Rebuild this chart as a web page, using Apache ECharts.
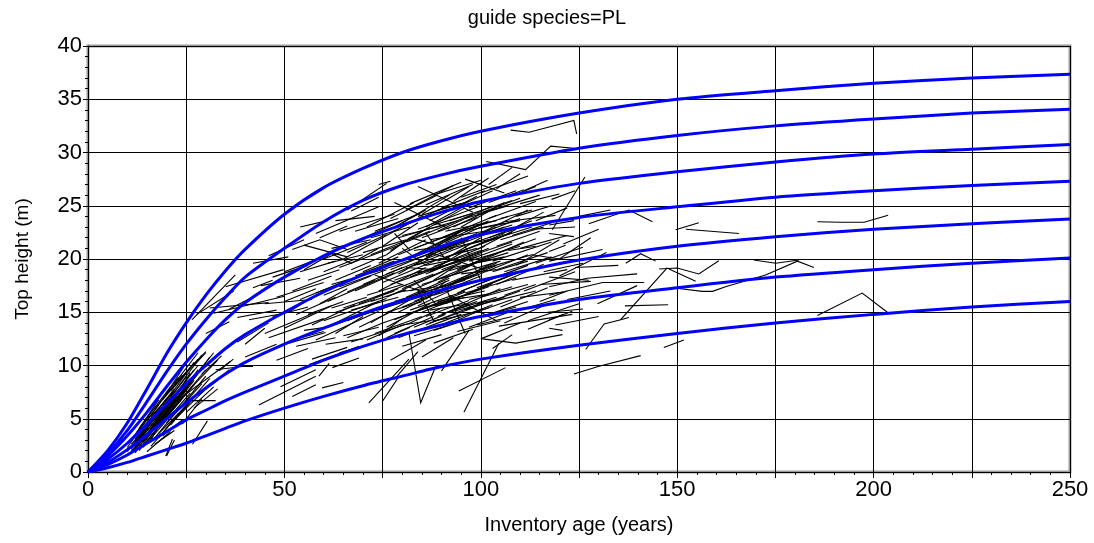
<!DOCTYPE html>
<html>
<head>
<meta charset="utf-8">
<title>guide species=PL</title>
<script src="https://cdn.jsdelivr.net/npm/echarts/dist/echarts.min.js"></script>
<style>
  html, body { margin: 0; padding: 0; background: #fff; }
  #chart { width: 1094px; height: 543px; }
</style>
</head>
<body>
<div id="chart"></div>
<script>
// guide curve ages (years)
const guideAges = [0, 5, 10, 15, 20, 25, 30, 35, 40, 50, 60, 70, 80, 90, 100, 125, 150, 175, 200, 225, 250];
// guide curve heights (m), top to bottom
const guide1 = [0, 2.0, 4.6, 7.8, 11.1, 14.0, 16.6, 18.9, 20.9, 24.2, 26.7, 28.5, 30.0, 31.1, 32.0, 33.7, 35.0, 35.8, 36.5, 37.0, 37.35];
const guide2 = [0, 1.7, 3.9, 6.6, 9.4, 12.0, 14.3, 16.4, 18.3, 21.0, 23.5, 25.5, 26.9, 27.9, 28.7, 30.4, 31.6, 32.5, 33.15, 33.7, 34.06];
const guide3 = [0, 1.5, 3.4, 5.6, 8.0, 10.3, 12.4, 14.3, 15.9, 18.3, 20.3, 21.9, 23.2, 24.4, 25.4, 27.1, 28.2, 29.1, 29.85, 30.3, 30.75];
const guide4 = [0, 1.2, 2.7, 4.5, 6.4, 8.3, 10.0, 11.6, 12.9, 15.0, 16.9, 18.5, 19.9, 21.2, 22.3, 23.9, 24.9, 25.8, 26.4, 26.9, 27.3];
const guide5 = [0, 0.9, 2.1, 3.5, 5.0, 6.5, 7.9, 9.2, 10.3, 12.0, 13.5, 14.9, 16.1, 17.1, 18.0, 19.9, 21.2, 22.1, 22.8, 23.3, 23.75];
const guide6 = [0, 0.7, 1.6, 2.7, 3.8, 4.9, 5.8, 6.7, 7.5, 9.0, 10.5, 11.8, 12.9, 13.8, 14.6, 16.2, 17.3, 18.3, 19.0, 19.6, 20.1];
const guide7 = [0, 0.4, 0.9, 1.5, 2.1, 2.7, 3.4, 4.1, 4.8, 6.0, 7.1, 8.1, 9.0, 9.9, 10.6, 11.9, 13.0, 14.0, 14.8, 15.5, 16.0];

// plot measurements: age, height, age, height, ...
const youngPlots = [
  [11, 2.2, 20, 6.5], [12, 2.8, 22, 7.2], [12, 3.5, 18, 6.8], [13, 2.0, 24, 6.9],
  [13, 4.1, 21, 8.0], [14, 2.6, 19, 5.2], [14, 3.0, 26, 8.6], [15, 3.6, 22, 6.9],
  [15, 4.8, 23, 8.9], [16, 2.4, 25, 6.2], [16, 5.2, 22, 7.6], [17, 3.9, 27, 8.2],
  [17, 5.9, 24, 9.1], [18, 3.2, 23, 5.5], [18, 4.5, 28, 9.6], [19, 6.2, 27, 10.3],
  [11, 1.9, 17, 4.2], [12, 2.5, 16, 4.6], [13, 3.3, 19, 6.1], [14, 4.4, 18, 6.3],
  [20, 4.6, 29, 8.3], [20, 5.8, 28, 9.2], [21, 7.0, 29, 11.0], [22, 4.9, 30, 7.8],
  [23, 6.8, 31, 10.8], [24, 7.5, 32, 11.2], [19, 3.4, 24, 4.9], [25, 5.6, 32, 8.0],
  [26, 7.8, 33, 10.5], [15, 1.9, 21, 3.8], [17, 2.6, 22, 3.9], [20, 1.5, 22, 3.0],
  [26.6, 2.6, 30.4, 4.8], [25.7, 6.7, 32.5, 6.7], [27, 6.0, 33, 7.8], [30, 7.8, 36, 9.6],
  [10, 2.3, 14, 4.4], [16, 3.0, 20, 5.8], [18, 5.0, 22, 7.3], [21, 6.2, 26, 9.3],
  [22, 8.3, 28, 11.2], [23, 8.6, 30, 11.3], [27, 10.0, 30, 11.2], [28, 7.2, 33, 8.6],
  [24, 4.5, 29, 6.9], [12, 1.8, 15, 3.4], [22.3, 6.6, 36.3, 10.4], [13, 2.9, 17, 5.3],
  [16, 4.1, 21, 6.6], [19, 5.3, 25, 8.0], [14, 3.8, 20, 6.9],
  [11, 2.6, 19, 5.9], [12, 3.1, 20, 6.4], [13, 2.4, 20, 5.5], [13, 3.7, 22, 7.8],
  [14, 3.4, 23, 7.6], [15, 2.9, 24, 7.0], [15, 4.3, 21, 6.6], [16, 3.8, 26, 8.5],
  [17, 4.8, 25, 8.4], [17, 3.2, 23, 5.9], [18, 4.0, 26, 7.4], [18, 5.6, 25, 8.9],
  [19, 4.8, 27, 8.6], [19, 6.8, 26, 9.8], [20, 5.2, 30, 9.6], [21, 5.6, 27, 8.2],
  [21, 7.6, 28, 10.6], [22, 6.4, 29, 9.9], [23, 5.4, 31, 8.8], [24, 6.3, 30, 9.0],
  [14, 2.3, 18, 4.0], [16, 3.4, 19, 4.6], [12, 2.1, 18, 5.0], [10, 1.9, 13, 3.4],
  [11, 3.0, 16, 5.6], [20, 7.4, 26, 10.8], [19.8, 1.5, 21.5, 3.1], [29, 9.2, 34, 10.9],
  [12, 2.4, 21, 6.0], [13, 3.0, 23, 7.4], [14, 2.8, 22, 6.2], [15, 3.2, 25, 7.8],
  [16, 4.6, 24, 8.0], [17, 4.2, 22, 6.4], [18, 3.6, 27, 7.0], [19, 5.8, 28, 10.0],
  [20, 6.2, 25, 8.4], [21, 4.4, 28, 7.4], [22, 7.2, 27, 9.6], [11, 2.0, 18, 4.8]
];
const midPlots = [
  [35, 17.4, 49.8, 19.0], [26.5, 14.3, 37.5, 18.5], [27.7, 14.8, 37.1, 17.0], [32, 14.9, 50, 16.5],
  [42, 19.6, 51, 20.2], [41, 14.3, 50, 14.9], [43.5, 6.3, 58, 9.0], [33.4, 9.5, 37, 10.6],
  [32.5, 9.6, 39.3, 9.9, 42, 9.9], [59.6, 7.9, 65, 8.4], [44, 11.0, 55, 12.8], [46, 12.6, 60, 14.4],
  [45, 15.8, 57, 16.2], [48, 10.5, 56, 11.6], [50, 13.5, 62, 15.6], [52, 17.0, 62, 18.4],
  [38, 12.2, 46, 14.0], [40, 10.8, 48, 12.0], [47, 18.3, 56, 19.4], [53, 11.8, 63, 12.6],
  [55, 13.3, 61, 13.6], [49, 8.0, 58, 9.6], [51, 15.0, 58, 16.6], [36, 15.3, 44, 16.8],
  [42, 17.3, 47, 18.0], [31, 15.4, 46, 15.9], [40, 12.0, 45, 13.5], [57, 10.6, 66, 11.7],
  [30, 13.0, 36, 14.1], [51.2, 12.1, 60.5, 13.1], [52, 7.1, 58, 8.2], [62.2, 9.8, 69, 10.7],
  [56.3, 10.1, 69, 11.8], [58.8, 9.0, 61.4, 10.2], [64, 11.2, 75, 12.3], [60.5, 12.0, 70, 12.5],
  [58, 22.4, 74, 24.9], [66, 24.6, 76, 27.1], [55, 21.3, 66, 20.2], [52, 20.9, 59, 21.8, 66, 20.9],
  [59, 22.0, 66, 23.1], [55, 19.0, 62, 20.5, 67, 19.6, 74, 21.0], [58, 12.4, 74, 15.1], [60, 14.2, 76, 16.3],
  [61, 16.0, 78, 18.7], [62, 17.6, 75, 19.0], [63, 13.0, 70, 14.6], [64, 19.2, 80, 21.4],
  [65, 15.4, 79, 17.2], [66, 20.6, 76, 22.3], [67, 12.2, 82, 14.0], [68, 17.0, 84, 19.6],
  [69, 21.8, 80, 23.6], [70, 14.8, 86, 16.6], [70, 18.8, 79, 20.2], [71, 23.0, 83, 25.3],
  [72, 16.0, 81, 17.1], [72, 20.4, 87, 22.6], [73, 13.0, 85, 14.6], [62, 21.0, 72, 21.8],
  [64, 22.6, 78, 24.2], [66, 16.9, 73, 18.0], [60, 18.8, 68, 20.0], [59, 15.8, 66, 17.2],
  [67, 24.5, 74, 25.8], [74, 27.0, 77, 27.3],
  [45, 13.0, 58, 15.0], [47, 14.6, 56, 15.5], [48, 16.4, 60, 17.8], [50, 18.8, 60, 20.2],
  [52, 12.4, 60, 13.2], [53, 14.8, 63, 16.4], [54, 16.2, 66, 18.0], [56, 18.0, 64, 19.0],
  [57, 13.8, 68, 15.7], [58, 16.8, 69, 18.3], [60, 20.0, 71, 21.6], [61, 13.6, 72, 15.0],
  [62, 15.4, 71, 16.4], [63, 18.0, 72, 19.4], [65, 12.8, 74, 13.6], [66, 14.2, 77, 15.8],
  [67, 19.0, 76, 20.4], [68, 22.6, 79, 23.8], [69, 15.8, 78, 17.0], [70, 17.6, 80, 19.2],
  [71, 12.4, 80, 13.8], [72, 22.0, 82, 23.0], [44, 17.5, 54, 18.2], [38, 14.5, 48, 15.2],
  [46, 20.3, 55, 21.8], [63, 23.6, 73, 24.0], [54, 23.0, 61, 23.6],
  [60, 16.6, 72, 18.4], [61, 19.6, 70, 20.4], [62, 13.8, 74, 16.0], [63, 15.0, 73, 16.2],
  [64, 17.4, 76, 19.0], [65, 20.0, 74, 21.8], [66, 12.6, 75, 14.0], [67, 15.2, 79, 16.4],
  [68, 18.4, 78, 19.8], [69, 13.6, 78, 15.2], [70, 20.6, 81, 21.8], [71, 16.6, 80, 17.6],
  [72, 14.0, 82, 16.2], [73, 22.6, 84, 24.2], [74, 12.8, 80, 14.4], [56, 14.8, 65, 16.0],
  [54, 18.8, 63, 19.8], [50, 16.0, 58, 17.2]
];
const corePlots = [
  [74, 15.2, 92, 18.0], [76, 16.4, 95, 19.6], [75, 17.8, 90, 20.1], [77, 19.0, 99, 22.4],
  [78, 14.3, 96, 16.9], [79, 20.4, 97, 23.0], [80, 15.5, 100, 18.4], [80, 17.2, 93, 19.3],
  [81, 21.6, 98, 24.2], [82, 18.3, 101, 21.2], [82, 14.0, 90, 15.4], [83, 16.0, 99, 18.6],
  [84, 19.5, 96, 21.3], [84, 22.8, 100, 25.0], [85, 15.0, 103, 17.7], [85, 17.6, 97, 19.0],
  [86, 20.2, 104, 23.0], [86, 13.8, 101, 16.0], [87, 23.6, 99, 25.9], [87, 18.8, 102, 21.0],
  [88, 16.6, 100, 18.0], [88, 21.0, 95, 22.6], [89, 14.6, 105, 17.2], [89, 19.8, 106, 22.4],
  [90, 22.0, 104, 24.1], [90, 17.3, 98, 18.5], [91, 15.8, 108, 18.6], [91, 24.4, 103, 26.4],
  [92, 18.9, 107, 20.6], [92, 13.9, 100, 15.2], [93, 21.4, 110, 23.8], [94, 16.8, 103, 18.2],
  [95, 20.0, 108, 21.6], [95, 23.0, 106, 25.3], [96, 15.2, 110, 17.0], [97, 18.2, 112, 20.4],
  [98, 22.1, 112, 24.6], [98, 14.4, 109, 15.5], [74, 19.6, 86, 21.8], [75, 21.2, 84, 23.4],
  [76, 13.6, 87, 15.8], [77, 22.5, 91, 24.9], [78, 18.0, 85, 18.9], [79, 16.9, 89, 17.4],
  [80, 23.4, 92, 26.0], [81, 19.2, 88, 19.0, 96, 20.8], [83, 20.8, 94, 21.4], [85, 24.2, 97, 26.8],
  [86, 16.2, 91, 17.9], [87, 15.2, 97, 15.8], [88, 23.2, 98, 24.3], [89, 17.8, 99, 19.7],
  [90, 20.8, 100, 21.7], [93, 16.2, 102, 16.7], [94, 19.0, 101, 20.1], [96, 21.3, 104, 22.0],
  [97, 13.6, 107, 15.0], [99, 17.3, 111, 18.9], [99, 20.9, 109, 22.8], [82, 25.2, 95, 27.2],
  [88, 26.0, 100, 27.4], [93, 25.4, 102, 27.6], [78, 25.3, 92, 22.8], [84, 26.8, 98, 24.4],
  [73, 18.5, 86, 16.8], [88, 20.5, 101, 19.0], [92, 16.6, 104, 14.2],
  [81.7, 13.1, 84.7, 6.5, 88.5, 9.9], [94.4, 7.6, 106.3, 9.8], [95.7, 5.6, 104.6, 12.1], [77, 10.5, 86, 12.4],
  [80, 11.8, 90, 12.9], [85, 10.8, 93, 12.6], [88, 12.1, 98, 13.4], [78, 8.7, 84, 11.3],
  [90, 9.5, 97, 13.3], [100, 12.5, 110, 14.0], [103, 11.6, 108, 12.9], [76, 12.6, 82, 13.6],
  [71.5, 6.5, 81.7, 10.6], [74.9, 6.6, 79.2, 9.0],
  [73, 16.4, 88, 18.6], [74, 21.8, 85, 24.0], [75, 14.0, 91, 16.0], [76, 18.6, 93, 21.0],
  [77, 23.8, 89, 26.0], [78, 16.0, 97, 18.2], [79, 12.6, 95, 14.8], [79, 22.0, 94, 23.6],
  [80, 19.8, 95, 21.8], [81, 14.8, 94, 16.4], [81, 24.6, 93, 26.9], [82, 17.0, 98, 19.5],
  [83, 21.0, 101, 23.4], [83, 12.8, 92, 13.8], [84, 15.6, 95, 17.5], [84, 18.7, 99, 20.2],
  [85, 22.0, 99, 23.9], [86, 25.1, 98, 27.0], [86, 14.6, 97, 16.1], [87, 17.0, 104, 19.6],
  [87, 20.6, 97, 21.8], [88, 13.3, 99, 14.6], [88, 18.0, 93, 19.2, 104, 20.0], [89, 22.6, 103, 25.0],
  [89, 16.0, 101, 17.0], [90, 24.8, 101, 26.4], [90, 19.0, 108, 21.4], [91, 14.0, 103, 15.7],
  [91, 21.5, 100, 23.0], [92, 17.6, 104, 19.4], [92, 23.6, 108, 25.5], [93, 15.2, 104, 16.4],
  [93, 19.6, 100, 20.5], [94, 22.5, 107, 24.0], [94, 13.2, 105, 14.2], [95, 17.0, 107, 18.7],
  [95, 25.8, 104, 27.0], [96, 19.2, 111, 21.6], [96, 23.8, 107, 25.0], [97, 16.2, 108, 17.4],
  [97, 21.4, 112, 23.2], [98, 14.9, 108, 16.2], [98, 19.6, 106, 20.2], [99, 24.2, 110, 25.7],
  [99, 15.8, 106, 16.4], [100, 20.0, 114, 21.9], [100, 22.9, 110, 23.6], [101, 17.9, 112, 19.4],
  [102, 14.8, 112, 16.0], [102, 25.3, 111, 26.5], [103, 18.8, 112, 19.8], [104, 21.2, 115, 22.6],
  [105, 23.8, 113, 24.6], [106, 16.6, 114, 17.6], [76, 20.4, 82, 22.0, 90, 21.2], [80, 21.0, 86, 19.4, 94, 20.0],
  [83, 18.0, 89, 15.6, 96, 16.4], [86, 22.4, 91, 20.0, 100, 22.0], [91, 17.4, 96, 13.0], [95, 22.0, 100, 18.0],
  [84, 17.0, 88, 14.2, 94, 14.6], [78, 22.4, 82, 20.8],
  [74, 17.0, 86, 19.2], [75, 19.0, 88, 20.6], [76, 15.0, 85, 16.0], [77, 17.6, 94, 19.8],
  [77, 20.8, 87, 23.0], [78, 13.0, 88, 14.6], [78, 23.0, 86, 24.6], [79, 15.0, 91, 17.2],
  [79, 18.6, 90, 20.9], [80, 22.2, 91, 23.2], [80, 13.8, 87, 14.2], [81, 16.4, 92, 18.2],
  [81, 20.0, 95, 22.6], [82, 15.2, 96, 17.0], [82, 22.0, 96, 24.8], [83, 13.6, 91, 14.8],
  [83, 19.4, 92, 20.2], [84, 24.0, 95, 25.2], [85, 16.8, 96, 18.0], [85, 20.6, 94, 22.4],
  [86, 18.6, 98, 20.4], [86, 23.0, 96, 25.0], [87, 14.0, 98, 15.4], [87, 21.8, 101, 22.6],
  [88, 15.6, 102, 17.4], [88, 19.3, 100, 20.8], [89, 21.3, 102, 23.6], [89, 24.6, 97, 25.4],
  [90, 14.8, 99, 16.0], [90, 18.2, 105, 19.8], [91, 20.2, 99, 21.0], [91, 22.6, 104, 23.6],
  [92, 15.0, 105, 16.2], [92, 21.0, 106, 23.0], [93, 17.8, 103, 19.6], [93, 23.0, 101, 24.4],
  [94, 14.6, 102, 15.4], [94, 20.6, 108, 22.5], [95, 18.6, 104, 19.0], [96, 16.8, 109, 18.2],
  [96, 22.6, 106, 23.4], [97, 19.8, 110, 21.2], [97, 24.8, 109, 26.4], [98, 17.0, 110, 18.8],
  [99, 13.8, 108, 14.6], [99, 22.2, 108, 23.2], [100, 16.4, 112, 17.6], [100, 19.0, 113, 20.4],
  [101, 21.6, 113, 23.0], [102, 23.8, 114, 25.4], [103, 16.0, 114, 17.0], [104, 19.0, 117, 20.6],
  [105, 21.8, 116, 23.0], [106, 14.0, 116, 15.6], [107, 25.8, 114, 26.8], [108, 22.2, 118, 23.4]
];
const oldPlots = [
  [101.4, 29.15, 111.4, 28.4, 117.8, 30.6, 123.6, 30.4], [107.6, 32.1, 112.3, 31.9, 123.7, 33.0, 124.4, 31.75],
  [118.2, 22.75, 126.5, 27.7], [100, 26.2, 112, 27.8], [101, 24.4, 115, 26.0], [102, 22.0, 113, 23.6],
  [103, 19.8, 118, 21.6], [104, 17.6, 116, 19.5], [105, 15.5, 117, 17.3], [106, 23.5, 119, 24.1],
  [107, 20.8, 114, 21.2], [108, 18.0, 122, 19.0], [110, 25.2, 120, 26.1], [110, 16.4, 121, 16.9],
  [112, 13.4, 121, 14.8], [113, 22.8, 124, 23.0], [114, 19.6, 126, 21.1], [115, 17.6, 128, 17.9],
  [117.4, 22.4, 123.7, 22.1], [117, 15.0, 126, 15.3], [120, 18.4, 132, 20.6], [104, 26.6, 110, 28.0],
  [96, 27.5, 106, 26.2], [117.4, 23.2, 123.7, 23.6], [117.4, 20.7, 121.6, 21.3], [117.4, 19.8, 131, 20.9],
  [117.4, 18.3, 127.5, 18.0], [117.4, 17.4, 127.1, 18.2, 139.8, 18.6], [117.4, 16.6, 131, 17.8, 141.6, 17.8],
  [129.7, 15.8, 139.8, 17.5], [117.4, 14.3, 123.3, 15.1], [117.4, 13.5, 120.8, 13.3], [136.7, 15.6, 147.7, 15.7],
  [126.7, 11.5, 131.4, 13.9, 135.6, 14.3, 147.5, 19.2], [135.6, 14.3, 137.7, 14.5],
  [136.9, 19.6, 140.7, 20.5, 144.5, 19.8], [145.4, 19.06, 150, 19.15, 155.5, 18.6, 160.6, 19.84],
  [147.9, 19.06, 154.7, 17.9],
  [148.8, 17.3, 156.4, 16.96, 159, 16.96, 162.3, 17.4, 172.5, 18.5, 180.6, 19.8, 184.8, 19.2],
  [169.5, 19.9, 175.1, 19.6, 181, 19.9], [127.5, 23.3, 137.7, 24.6, 143.7, 23.5],
  [149.6, 22.75, 155.5, 23.4], [152.2, 22.8, 165.7, 22.4],
  [185.7, 23.5, 191.6, 23.45, 197.6, 23.45, 203.7, 24.1], [185.7, 14.7, 197.1, 16.8, 203.5, 15.0],
  [123.7, 9.2, 130.1, 9.93, 140.7, 10.93], [146.6, 11.7, 151.7, 12.4],
  [100.4, 12.5, 108.9, 12.1, 120.8, 12.9], [104.6, 13.7, 123.3, 14.8],
  [106, 18.8, 118, 20.2], [107, 22.6, 116, 24.4], [108, 15.0, 119, 16.2], [109, 19.4, 120, 21.8],
  [109, 24.0, 118, 25.0], [110, 21.0, 122, 22.2], [111, 17.0, 124, 18.8], [111, 26.4, 117, 27.4],
  [112, 14.2, 125, 15.8], [113, 20.4, 120, 20.0, 128, 22.0], [114, 23.6, 122, 24.8], [115, 16.0, 122, 17.0],
  [116, 18.8, 126, 19.6], [118, 25.6, 124, 26.4], [119, 13.8, 130, 14.6], [121, 21.4, 130, 22.8],
  [122, 16.2, 133, 17.0], [124, 19.2, 135, 19.4], [102, 27.0, 108, 28.6], [125, 24.0, 133, 24.6]
];

const allPlots = youngPlots.concat(midPlots, corePlots, oldPlots);

const toCoords = (flat) => {
  const pts = [];
  for (let i = 0; i < flat.length; i += 2) pts.push([flat[i], flat[i + 1]]);
  return pts;
};

const guideSeries = [guide1, guide2, guide3, guide4, guide5, guide6, guide7].map((g) => ({
  type: 'line',
  data: guideAges.map((a, i) => [a, g[i]]),
  smooth: 0.25,
  symbol: 'none',
  lineStyle: { color: '#0000ff', width: 3 },
  z: 5
}));

const chart = echarts.init(document.getElementById('chart'));
chart.setOption({
  animation: false,
  backgroundColor: '#fff',
  title: {
    text: 'guide species=PL',
    left: 'center',
    top: 3,
    textStyle: { fontFamily: 'Liberation Sans', fontSize: 20, fontWeight: 'normal', color: '#000' }
  },
  grid: {
    left: 88, right: 24, top: 46, bottom: 71,
    show: true, borderColor: '#9a9a9a', borderWidth: 3
  },
  xAxis: {
    type: 'value',
    min: 0, max: 250, interval: 25,
    name: 'Inventory age (years)',
    nameLocation: 'middle',
    nameGap: 43,
    nameTextStyle: { fontFamily: 'Liberation Sans', fontSize: 20, color: '#000' },
    axisLine: { show: true, lineStyle: { color: '#000', width: 1 } },
    axisTick: { show: true, length: 6, lineStyle: { color: '#000' } },
    minorTick: { show: true, splitNumber: 5, length: 3, lineStyle: { color: '#000' } },
    axisLabel: {
      fontFamily: 'Liberation Sans', fontSize: 22, color: '#000', margin: 7,
      formatter: (v) => (v % 50 === 0 ? String(v) : '')
    },
    splitLine: { show: true, lineStyle: { color: '#000', width: 1 } }
  },
  yAxis: {
    type: 'value',
    min: 0, max: 40, interval: 5,
    name: 'Top height (m)',
    nameLocation: 'middle',
    nameGap: 56,
    nameTextStyle: { fontFamily: 'Liberation Sans', fontSize: 19, color: '#000' },
    axisLine: { show: true, lineStyle: { color: '#000', width: 1 } },
    axisTick: { show: true, length: 5, lineStyle: { color: '#000' } },
    minorTick: { show: true, splitNumber: 5, length: 3, lineStyle: { color: '#000' } },
    axisLabel: { fontFamily: 'Liberation Sans', fontSize: 22, color: '#000', margin: 6 },
    splitLine: { show: true, lineStyle: { color: '#000', width: 1 } }
  },
  series: [
    {
      type: 'lines',
      coordinateSystem: 'cartesian2d',
      polyline: true,
      silent: true,
      lineStyle: { color: '#000', width: 1.1, opacity: 1 },
      data: allPlots.map((p) => ({ coords: toCoords(p) })),
      z: 3
    }
  ].concat(guideSeries)
});
</script>
</body>
</html>
